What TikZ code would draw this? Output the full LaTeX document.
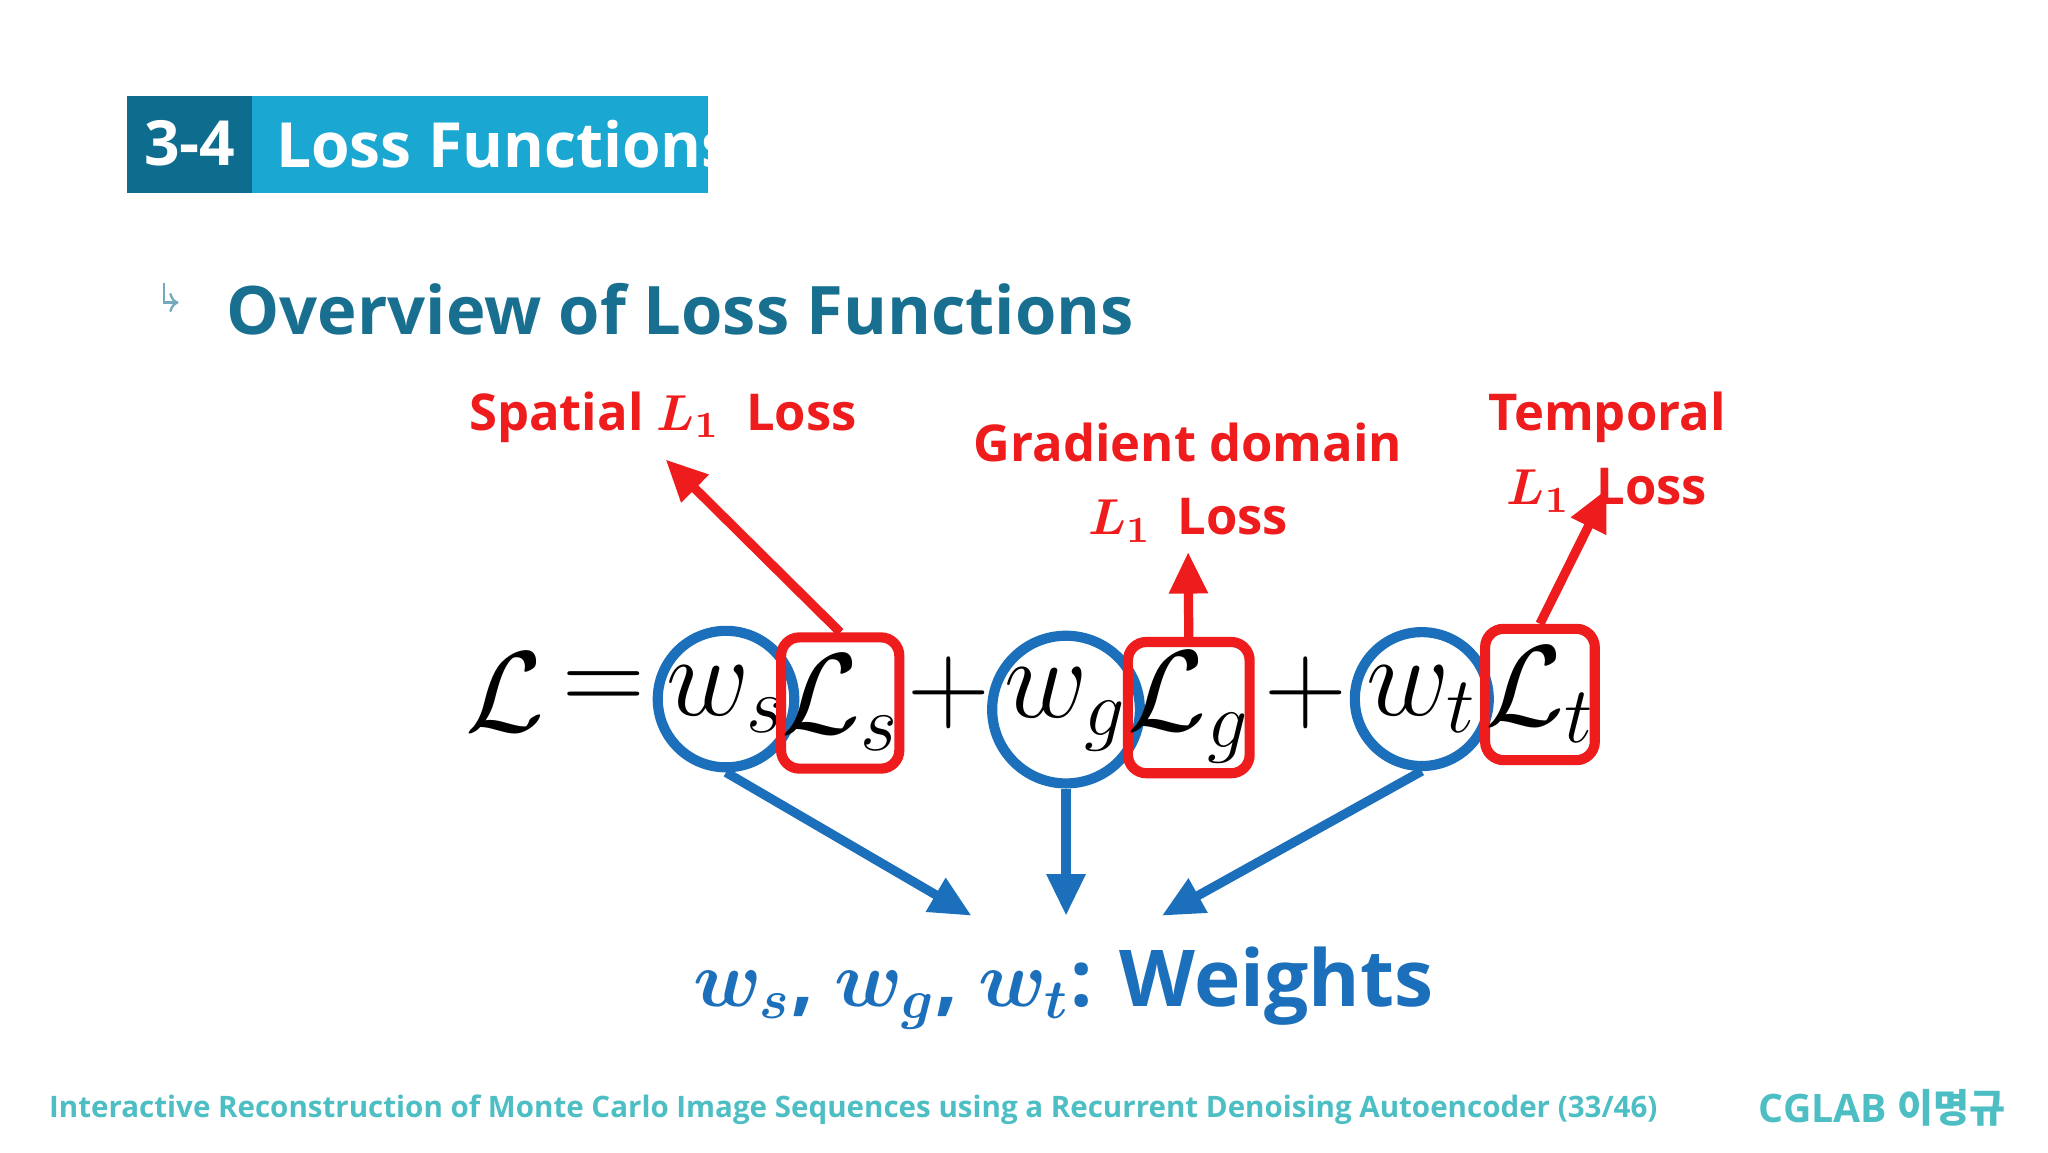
\documentclass[tikz,border=0pt]{standalone}
\usepackage{fontspec}
\usepackage{amsmath,amssymb,bm}
\setmainfont{Open Sans}
\newfontfamily\cjk{Noto Sans CJK KR}
\usetikzlibrary{arrows.meta,positioning}
\definecolor{titledark}{HTML}{0E6C8E}
\definecolor{titlelight}{HTML}{1AA7D1}
\definecolor{headteal}{HTML}{196F8F}
\definecolor{lossred}{HTML}{EE1C1C}
\definecolor{wblue}{HTML}{1C6FBA}
\definecolor{footteal}{HTML}{4DBFC4}
\tikzset{
  eqn/.style={font=\fontsize{27}{30}\selectfont},
  wcirc/.style={eqn, draw=wblue, line width=2.2pt, circle, minimum size=1.02cm, inner sep=0pt},
  lbox/.style={eqn, draw=lossred, line width=2.2pt, rounded corners=4pt, minimum width=0.78cm, minimum height=1.0cm, inner sep=0pt},
  redlbl/.style={text=lossred, font=\fontsize{11}{14}\selectfont\bfseries, align=center},
  redarr/.style={draw=lossred, line width=2pt, -{Triangle[length=9pt,width=8pt]}},
  bluearr/.style={draw=wblue, line width=2pt, -{Triangle[length=9pt,width=8pt]}}
}
\begin{document}
\begin{tikzpicture}
\useasboundingbox[fill=white] (0,0) rectangle (15.6,8.775);
% title bar
\fill[titledark] (0.97,7.305) rectangle (1.92,8.045);
\fill[titlelight] (1.92,7.305) rectangle (5.39,8.045);
\node[text=white, font=\fontsize{13.5}{16}\selectfont\bfseries] (num) at (1.445,7.68) {3-4};
\node[text=white, font=\fontsize{13.5}{16}\selectfont\bfseries, anchor=west] (title) at (1.98,7.68) {Loss\ Functions};
% heading
\coordinate (bulA) at (1.25,6.62);
\coordinate (bulB) at (1.25,6.47);
\coordinate (bulC) at (1.36,6.47);
\draw[headteal!60, line width=0.5pt, -{To[length=2pt]}] (bulA) -- (bulB) -- (bulC);
\node[text=headteal, font=\fontsize{14.5}{18}\selectfont\bfseries, anchor=west] (head) at (1.6,6.42) {Overview of Loss Functions};
% equation
\node[eqn] (L) at (3.85,3.5) {$\mathcal{L}$};
\node[eqn] (eq) at (4.6,3.5) {$=$};
\node[wcirc] (ws) at (5.53,3.45) {$w_s$};
\node[lbox] (Ls) at (6.4,3.42) {$\mathcal{L}_s$};
\node[eqn] (p1) at (7.23,3.5) {$+$};
\node[wcirc] (wg) at (8.12,3.37) {$w_g$};
\node[lbox, minimum width=0.87cm] (Lg) at (9.055,3.385) {$\mathcal{L}_g$};
\node[eqn] (p2) at (9.95,3.5) {$+$};
\node[wcirc] (wt) at (10.83,3.45) {$w_t$};
\node[lbox, minimum width=0.8cm] (Lt) at (11.73,3.485) {$\mathcal{L}_t$};
% red labels
\node[redlbl] (spat) at (5.05,5.6) {Spatial $\bm{L_1}$\ \ Loss};
\node[redlbl] (grad) at (9.05,5.1) {Gradient domain\\[2pt]$\bm{L_1}$\ \ Loss};
\node[redlbl] (temp) at (12.24,5.33) {Temporal\\[2pt]$\bm{L_1}$\ \ Loss};
\coordinate (spatTip) at (5.07,5.275);
\coordinate (gradTip) at (9.05,4.57);
\coordinate (tempTip) at (12.24,5.05);
\draw[redarr] (Ls.north) -- (spatTip);
\draw[redarr] (Lg.north) -- (gradTip);
\draw[redarr] (Lt.north) -- (tempTip);
% weights
\node[text=wblue, font=\fontsize{17}{20}\selectfont\bfseries] (wts) at (8.1,1.25) {$\bm{w_s}$,\ $\bm{w_g}$,\ $\bm{w_t}$: Weights};
\coordinate (wsTip) at (7.4,1.8);
\coordinate (wgTip) at (8.12,1.8);
\coordinate (wtTip) at (8.85,1.8);
\draw[bluearr] (ws.south) -- (wsTip);
\draw[bluearr] (wg.south) -- (wgTip);
\draw[bluearr] (wt.south) -- (wtTip);
% footer
\node[text=footteal, font=\fontsize{6.4}{8}\selectfont\bfseries, anchor=west] (foot) at (0.25,0.32) {Interactive Reconstruction of Monte Carlo Image Sequences using a Recurrent Denoising Autoencoder (33/46)};
\node[text=footteal, font=\fontsize{8.5}{10}\selectfont\bfseries, anchor=east] (lab) at (15.4,0.34) {CGLAB {\cjk 이명규}};
\end{tikzpicture}
\end{document}
